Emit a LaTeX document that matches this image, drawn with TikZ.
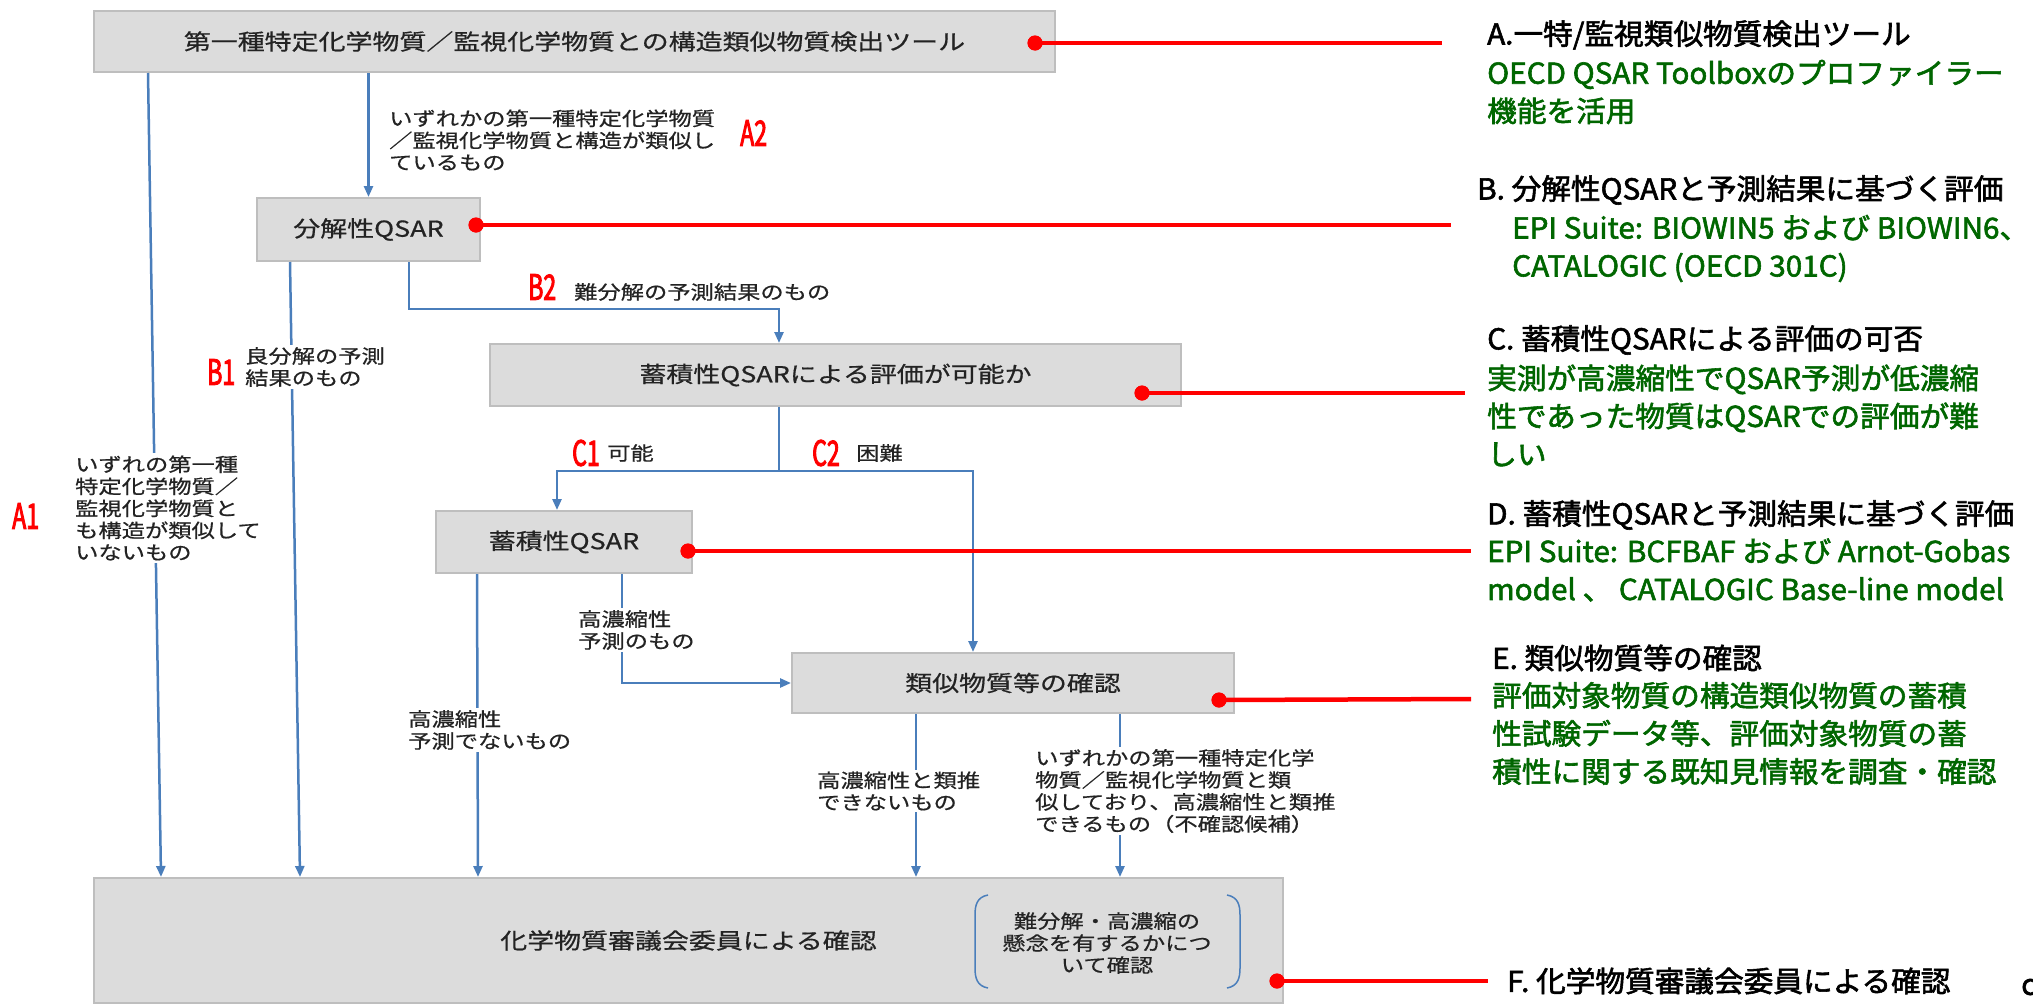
\documentclass[tikz,border=0pt]{standalone}
\usepackage{fontspec}
\usetikzlibrary{arrows.meta,calc}
\newfontfamily\jpL[FakeStretch=1.225,FakeBold=0.6]{Noto Sans CJK JP}
\newfontfamily\jpR[FakeStretch=1.03,FakeBold=2]{Noto Sans CJK JP}
\newfontfamily\jpRed[FakeStretch=0.66,FakeBold=2.5]{Noto Sans CJK JP}
\newcommand\bxfnt{\jpL\fontsize{22}{26}\selectfont}
\newcommand\lbfnt{\jpL\fontsize{19}{22}\selectfont}
\newcommand\rtfnt{\jpR\fontsize{28.8}{38}\selectfont}
\newcommand\rdfnt{\jpRed\fontsize{35}{36}\selectfont}
\definecolor{lineblue}{RGB}{74,126,187}
\definecolor{boxgray}{RGB}{220,220,220}
\definecolor{boxedge}{RGB}{190,190,190}
\definecolor{dgreen}{RGB}{0,102,0}
\definecolor{txtgray}{RGB}{35,35,35}
\begin{document}
\begin{tikzpicture}[x=1pt,y=-1pt,
  box/.style={draw=boxedge,line width=2pt,fill=boxgray,inner sep=0pt,font=\bxfnt,text=txtgray},
  lab/.style={font=\lbfnt,text=txtgray,inner sep=2pt,align=left,anchor=west},
  labcut/.style={lab,fill=white},
  redlab/.style={font=\rdfnt,text=red,inner sep=0pt,anchor=west},
  rh/.style={font=\rtfnt,text=black,inner sep=0pt,anchor=west,align=left},
  rg/.style={font=\rtfnt,text=dgreen,inner sep=0pt,anchor=west,align=left},
  conn/.style={draw=lineblue,line width=2.5pt},
  arr/.style={conn,-{Triangle[length=11pt,width=9pt]}},
  reddot/.style={circle,fill=red,minimum size=15pt,inner sep=0pt},
  redline/.style={draw=red,line width=4.5pt},
  paren/.style={draw=lineblue,line width=1.5pt}
]
\fill[white] (0,0) rectangle (2033,1004);
\useasboundingbox (0,0) rectangle (2033,1004);

% boxes
\node[box,minimum width=961pt,minimum height=61pt] (top) at (574.5,41.5) {第一種特定化学物質／監視化学物質との構造類似物質検出ツール};
\node[box,minimum width=223pt,minimum height=63pt] (bq) at (368.5,229.5) {分解性QSAR};
\node[box,minimum width=691pt,minimum height=62pt] (cq) at (835.5,375) {蓄積性QSARによる評価が可能か};
\node[box,minimum width=256pt,minimum height=62pt] (dq) at (564,542) {蓄積性QSAR};
\node[box,minimum width=442pt,minimum height=60pt] (eq) at (1013,683) {類似物質等の確認};
\node[box,minimum width=1189pt,minimum height=125pt] (bot) at (688.5,940.5) {化学物質審議会委員による確認};

% bracket note inside bottom box
\node[font=\lbfnt,text=txtgray,align=center,inner sep=0pt] (br) at (1107,943) {難分解・高濃縮の\\懸念を有するかにつ\\いて確認};
\draw[paren] (988,895) .. controls (977,897) and (975,905) .. (975,915) -- (975,968) .. controls (975,978) and (977,986) .. (988,988);
\draw[paren] (1227,895) .. controls (1238,897) and (1240,905) .. (1240,915) -- (1240,968) .. controls (1240,978) and (1238,986) .. (1227,988);

% connectors
\coordinate (b2turn) at (779,309);
\coordinate (cj) at (779,471);
\coordinate (e1) at ([xshift=125pt]eq.south west);
\coordinate (e2) at ([xshift=329pt]eq.south west);
\draw[arr] ([xshift=55pt]top.south west) -- ([xshift=68pt]bot.north west);
\draw[arr] (top.south -| bq.north) -- (bq.north);
\draw[arr] ([xshift=34pt]bq.south west) -- ([xshift=207pt]bot.north west);
\draw[arr] ([xshift=153pt]bq.south west) |- (b2turn) -- (b2turn |- cq.north);
\draw[conn] (cj |- cq.south) -- (cj);
\draw[arr] (cj) -| ([xshift=122pt]dq.north west);
\draw[arr] (cj) -| ([xshift=182pt]eq.north west);
\draw[arr] ([xshift=42pt]dq.south west) -- ([xshift=385pt]bot.north west);
\draw[arr] ([xshift=187pt]dq.south west) |- (eq.west);
\draw[arr] (e1) -- (e1 |- bot.north);
\draw[arr] (e2) -- (e2 |- bot.north);

% connector labels
\node[labcut] (la1) at (73,508) {いずれの第一種\\特定化学物質／\\監視化学物質と\\も構造が類似して\\いないもの};
\node[lab] (la2) at (387,140) {いずれかの第一種特定化学物質\\／監視化学物質と構造が類似し\\ているもの};
\node[labcut] (lb1) at (243,367) {良分解の予測\\結果のもの};
\node[lab] (lb2) at (572,292) {難分解の予測結果のもの};
\node[lab] (lc1) at (605,453) {可能};
\node[lab] (lc2) at (854,453) {困難};
\node[labcut] (ld1) at (406,730) {高濃縮性\\予測でないもの};
\node[labcut] (ld2) at (576,630) {高濃縮性\\予測のもの};
\node[labcut] (le1) at (815,791) {高濃縮性と類推\\できないもの};
\node[labcut] (le2) at (1033,791) {いずれかの第一種特定化学\\物質／監視化学物質と類\\似しており、高濃縮性と類推\\できるもの（不確認候補）};

% red tags
\node[redlab] (ta1) at (12,516) {A1};
\node[redlab] (ta2) at (740,133) {A2};
\node[redlab] (tb1) at (207,372) {B1};
\node[redlab] (tb2) at (528,287) {B2};
\node[redlab] (tc1) at (572,453) {C1};
\node[redlab] (tc2) at (812,453) {C2};

% right-hand descriptions
\node[rh] (ha) at (1487,35) {A.一特/監視類似物質検出ツール};
\node[rg] (ga) at (1487,92) {OECD QSAR Toolboxのプロファイラー\\機能を活用};
\node[rh] (hb) at (1477,190) {B. 分解性QSARと予測結果に基づく評価};
\node[rg] (gb) at (1512,248.5) {EPI Suite: BIOWIN5 および BIOWIN6、\\CATALOGIC (OECD 301C)};
\node[rh] (hc) at (1487,340) {C. 蓄積性QSARによる評価の可否};
\node[rg] (gc) at (1487,415.5) {実測が高濃縮性でQSAR予測が低濃縮\\性であった物質はQSARでの評価が難\\しい};
\node[rh] (hd) at (1487,515) {D. 蓄積性QSARと予測結果に基づく評価};
\node[rg] (gd) at (1487,570) {EPI Suite: BCFBAF および Arnot-Gobas\\model 、 CATALOGIC Base-line model};
\node[rh] (he) at (1492,658) {E. 類似物質等の確認};
\node[rg] (ge) at (1492,733.5) {評価対象物質の構造類似物質の蓄積\\性試験データ等、評価対象物質の蓄\\積性に関する既知見情報を調査・確認};
\node[rh] (hf) at (1507,981) {F. 化学物質審議会委員による確認};
\node[rh] (cut) at (2021,987) {c};

% red pointers
\coordinate (ea) at (1442,43);
\coordinate (eb) at (1451,225);
\coordinate (ec) at (1465,393);
\coordinate (ed) at (1471,551);
\coordinate (ee) at (1471,699);
\coordinate (ef) at (1488,981);
\node[reddot] (da) at (1035,43) {};
\node[reddot] (db) at (476,225) {};
\node[reddot] (dc) at (1142,393) {};
\node[reddot] (dd) at (688,551) {};
\node[reddot] (de) at (1219,700) {};
\node[reddot] (df) at (1277,981) {};
\draw[redline] (da.center) -- (ea);
\draw[redline] (db.center) -- (eb);
\draw[redline] (dc.center) -- (ec);
\draw[redline] (dd.center) -- (ed);
\draw[redline] (de.center) -- (ee);
\draw[redline] (df.center) -- (ef);
\node[reddot] at (da) {};
\node[reddot] at (db) {};
\node[reddot] at (dc) {};
\node[reddot] at (dd) {};
\node[reddot] at (de) {};
\node[reddot] at (df) {};
\end{tikzpicture}
\end{document}
